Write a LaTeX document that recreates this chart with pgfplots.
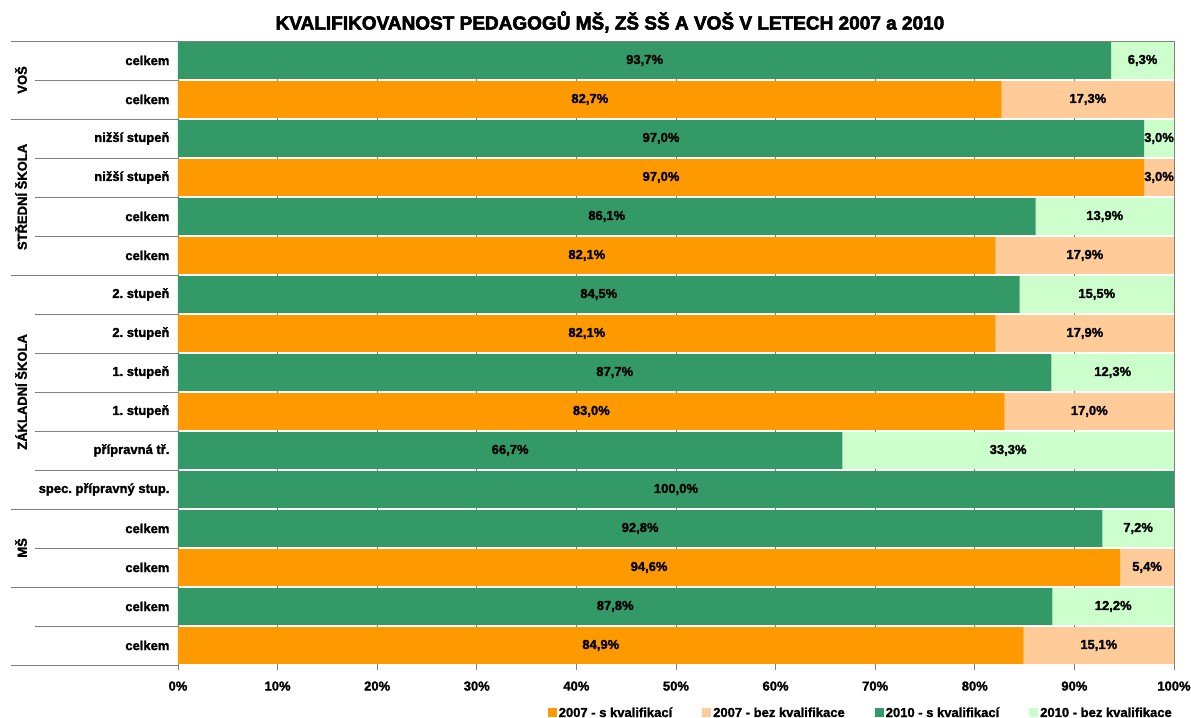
\documentclass[border=0pt]{standalone}
\usepackage{fontspec}
\setmainfont{Liberation Sans}[BoldFeatures={FakeBold=1.6}]
\newfontfamily\titlefont{Liberation Sans Bold}[FakeBold=3]
\usepackage{pgfplots}
\pgfplotsset{compat=1.18}
\definecolor{cOr}{HTML}{FF9900}
\definecolor{cOrL}{HTML}{FFCC99}
\definecolor{cGr}{HTML}{339966}
\definecolor{cGrL}{HTML}{CCFFCC}
\definecolor{cLine}{HTML}{808080}
\newcommand\lf{\fontsize{13}{15}\selectfont\bfseries}
\frenchspacing
\begin{document}
\begin{tikzpicture}
\begin{axis}[
  scale only axis, width=996pt, height=624pt,
  xbar stacked, bar width=36.8pt, bar shift=0pt,
  xmin=0, xmax=100, ymin=-0.5, ymax=15.5, enlargelimits=false,
  clip=false,
  axis x line*=bottom, axis y line*=left,
  x axis line style={draw=none},
  y axis line style={draw=cLine, line width=0.8pt},
  xtick={0,10,...,100},
  xticklabels={0\%,10\%,20\%,30\%,40\%,50\%,60\%,70\%,80\%,90\%,100\%},
  xticklabel style={font=\lf, yshift=-8pt},
  xmajorgrids, grid style={draw=cLine, line width=0.6pt},
  tick align=outside, major tick length=5pt,
  x tick style={draw=cLine, line width=0.6pt},
  ytick={0,...,15},
  yticklabels={celkem,celkem,celkem,celkem,spec. přípravný stup.,přípravná tř.,1. stupeň,1. stupeň,2. stupeň,2. stupeň,celkem,celkem,nižší stupeň,nižší stupeň,celkem,celkem},
  yticklabel style={font=\lf, xshift=0pt},
  y tick style={draw=none},
  legend columns=4,
  legend style={draw=none, fill=none, inner sep=0pt, at={(1,-0.077)}, anchor=east, font=\lf,
    nodes={inner xsep=2pt},
    /tikz/every even column/.append style={column sep=28pt}},
  legend image code/.code={\fill[#1] (0pt,-4.5pt) rectangle (9pt,4.5pt);},
]
\addplot[fill=cOr, draw=none] coordinates {(84.9,0) (0,1) (94.6,2) (0,3) (0,4) (0,5) (83.0,6) (0,7) (82.1,8) (0,9) (82.1,10) (0,11) (97.0,12) (0,13) (82.7,14) (0,15)};
\addplot[fill=cOrL, draw=none] coordinates {(15.1,0) (0,1) (5.4,2) (0,3) (0,4) (0,5) (17.0,6) (0,7) (17.9,8) (0,9) (17.9,10) (0,11) (3.0,12) (0,13) (17.3,14) (0,15)};
\addplot[fill=cGr, draw=none] coordinates {(0,0) (87.8,1) (0,2) (92.8,3) (100.0,4) (66.7,5) (0,6) (87.7,7) (0,8) (84.5,9) (0,10) (86.1,11) (0,12) (97.0,13) (0,14) (93.7,15)};
\addplot[fill=cGrL, draw=none] coordinates {(0,0) (12.2,1) (0,2) (7.2,3) (0,4) (33.3,5) (0,6) (12.3,7) (0,8) (15.5,9) (0,10) (13.9,11) (0,12) (3.0,13) (0,14) (6.3,15)};
\legend{2007 - s kvalifikací,2007 - bez kvalifikace,2010 - s kvalifikací,2010 - bez kvalifikace}

% group separator lines
\pgfplotsinvokeforeach{13.5,9.5,3.5,1.5,-0.5}{
  \draw[cLine, line width=0.8pt] (axis cs:-16.77,#1) -- (axis cs:0,#1);
}
\pgfplotsinvokeforeach{14.5,12.5,11.5,10.5,8.5,7.5,6.5,5.5,4.5,2.5,0.5}{
  \draw[cLine, line width=0.8pt] (axis cs:-14.36,#1) -- (axis cs:0,#1);
}
% group labels
\node[font=\lf, rotate=90] at (axis cs:-15.76,14.5) {VOŠ};
\node[font=\lf, rotate=90] at (axis cs:-15.76,11.5) {STŘEDNÍ ŠKOLA};
\node[font=\lf, rotate=90] at (axis cs:-15.76,6.5) {ZÁKLADNÍ ŠKOLA};
\node[font=\lf, rotate=90] at (axis cs:-15.76,2.5) {MŠ};
% title
\node[font={\fontsize{19}{21}\selectfont\titlefont}] at (axis cs:43.37,15.99) {KVALIFIKOVANOST PEDAGOGŮ MŠ, ZŠ SŠ A VOŠ V LETECH 2007 a 2010};
\end{axis}
% overlay axis for value labels (drawn on top of the bars)
\begin{axis}[hide axis, scale only axis, width=996pt, height=624pt,
  xmin=0, xmax=100, ymin=-0.5, ymax=15.5, enlargelimits=false, clip=false]
\node[font=\lf] at (axis cs:46.85,15) {93,7\%};
\node[font=\lf] at (axis cs:96.85,15) {6,3\%};
\node[font=\lf] at (axis cs:41.35,14) {82,7\%};
\node[font=\lf] at (axis cs:91.35,14) {17,3\%};
\node[font=\lf] at (axis cs:48.5,13) {97,0\%};
\node[font=\lf] at (axis cs:98.5,13) {3,0\%};
\node[font=\lf] at (axis cs:48.5,12) {97,0\%};
\node[font=\lf] at (axis cs:98.5,12) {3,0\%};
\node[font=\lf] at (axis cs:43.05,11) {86,1\%};
\node[font=\lf] at (axis cs:93.05,11) {13,9\%};
\node[font=\lf] at (axis cs:41.05,10) {82,1\%};
\node[font=\lf] at (axis cs:91.05,10) {17,9\%};
\node[font=\lf] at (axis cs:42.25,9) {84,5\%};
\node[font=\lf] at (axis cs:92.25,9) {15,5\%};
\node[font=\lf] at (axis cs:41.05,8) {82,1\%};
\node[font=\lf] at (axis cs:91.05,8) {17,9\%};
\node[font=\lf] at (axis cs:43.85,7) {87,7\%};
\node[font=\lf] at (axis cs:93.85,7) {12,3\%};
\node[font=\lf] at (axis cs:41.5,6) {83,0\%};
\node[font=\lf] at (axis cs:91.5,6) {17,0\%};
\node[font=\lf] at (axis cs:33.35,5) {66,7\%};
\node[font=\lf] at (axis cs:83.35,5) {33,3\%};
\node[font=\lf] at (axis cs:50,4) {100,0\%};
\node[font=\lf] at (axis cs:46.4,3) {92,8\%};
\node[font=\lf] at (axis cs:96.4,3) {7,2\%};
\node[font=\lf] at (axis cs:47.3,2) {94,6\%};
\node[font=\lf] at (axis cs:97.3,2) {5,4\%};
\node[font=\lf] at (axis cs:43.9,1) {87,8\%};
\node[font=\lf] at (axis cs:93.9,1) {12,2\%};
\node[font=\lf] at (axis cs:42.45,0) {84,9\%};
\node[font=\lf] at (axis cs:92.45,0) {15,1\%};
\draw[cLine, line width=0.8pt] (axis cs:-16.77,15.5) -- (axis cs:100,15.5);
\coordinate (bbA) at (axis cs:-17.87,16.55);
\coordinate (bbB) at (axis cs:101.71,-1.859);
\end{axis}
\pgfresetboundingbox
\path[use as bounding box] (bbA) rectangle (bbB);
\end{tikzpicture}
\end{document}
